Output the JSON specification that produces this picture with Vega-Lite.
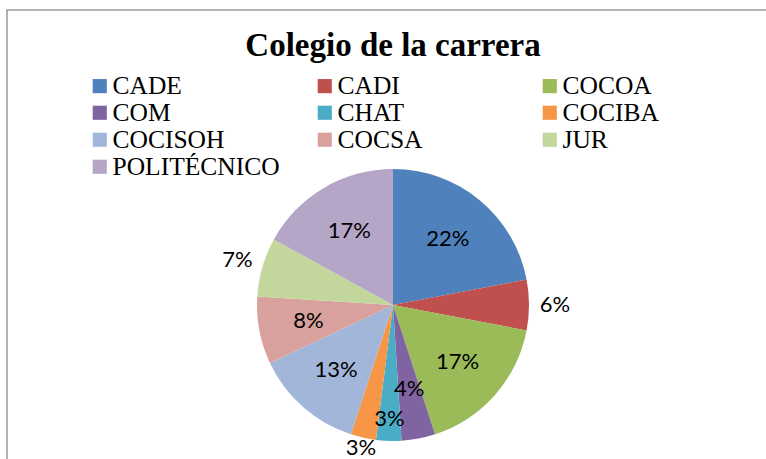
{
  "$schema": "https://vega.github.io/schema/vega-lite/v6.json",
  "autosize": {"type": "none"},
  "width": 772,
  "height": 590,
  "padding": {"left": 7, "top": 10, "right": 0, "bottom": 0},
  "background": "white",
  "view": {"stroke": "#9a9a9a", "strokeWidth": 1.5},
  "title": {
    "text": "Colegio de la carrera",
    "font": "Liberation Serif",
    "fontSize": 33,
    "fontWeight": "bold",
    "color": "black",
    "anchor": "middle",
    "frame": "group",
    "offset": 0,
    "baseline": "alphabetic",
    "dy": 79
  },
  "data": {
    "values": [
      {"college": "CADE", "pct": 22, "n": 1, "label": "22%"},
      {"college": "CADI", "pct": 6, "n": 2, "label": "6%"},
      {"college": "COCOA", "pct": 17, "n": 3, "label": "17%"},
      {"college": "COM", "pct": 4, "n": 4, "label": "4%"},
      {"college": "CHAT", "pct": 3, "n": 5, "label": "3%"},
      {"college": "COCIBA", "pct": 3, "n": 6, "label": "3%"},
      {"college": "COCISOH", "pct": 13, "n": 7, "label": "13%"},
      {"college": "COCSA", "pct": 8, "n": 8, "label": "8%"},
      {"college": "JUR", "pct": 7, "n": 9, "label": "7%"},
      {"college": "POLITÉCNICO", "pct": 17, "n": 10, "label": "17%"}
    ]
  },
  "encoding": {
    "theta": {"field": "pct", "type": "quantitative", "stack": true},
    "order": {"field": "n", "type": "quantitative"},
    "color": {
      "field": "college",
      "type": "nominal",
      "scale": {
        "domain": ["CADE", "CADI", "COCOA", "COM", "CHAT", "COCIBA", "COCISOH", "COCSA", "JUR", "POLITÉCNICO"],
        "range": ["#4F81BD", "#C0504D", "#9BBB59", "#8064A2", "#4BACC6", "#F79646", "#A2B6DA", "#D9A19D", "#C3D69B", "#B5A6C8"]
      },
      "legend": {
        "orient": "none",
        "legendX": 80,
        "legendY": 63,
        "columns": 3,
        "gridAlign": "all",
        "columnPadding": 32,
        "rowPadding": 0,
        "symbolType": "square",
        "symbolSize": 200,
        "symbolStrokeWidth": 0,
        "labelFont": "Liberation Serif",
        "labelFontSize": 25.5,
        "labelColor": "black",
        "labelOffset": 0,
        "labelLimit": 400,
        "title": null,
        "padding": 0,
        "direction": "horizontal"
      }
    }
  },
  "layer": [
    {"mark": {"type": "arc", "outerRadius": 136, "stroke": null}},
    {
      "mark": {"type": "text", "radius": 86, "font": "Lato", "fontSize": 22, "color": "black"},
      "encoding": {
        "color": {"value": "black"},
        "text": {"condition": {"test": "indexof(['CADE','COCOA','COM','COCISOH','COCSA','POLITÉCNICO'], datum.college) >= 0", "field": "label"}, "value": ""}
      }
    },
    {
      "mark": {"type": "text", "radius": 114, "font": "Lato", "fontSize": 22, "color": "black"},
      "encoding": {
        "color": {"value": "black"},
        "text": {"condition": {"test": "datum.college === 'CHAT'", "field": "label"}, "value": ""}
      }
    },
    {
      "mark": {"type": "text", "radius": 147, "font": "Lato", "fontSize": 22, "color": "black"},
      "encoding": {
        "color": {"value": "black"},
        "text": {"condition": {"test": "datum.college === 'COCIBA'", "field": "label"}, "value": ""}
      }
    },
    {
      "mark": {"type": "text", "radius": 162, "font": "Lato", "fontSize": 22, "color": "black"},
      "encoding": {
        "color": {"value": "black"},
        "text": {"condition": {"test": "indexof(['CADI','JUR'], datum.college) >= 0", "field": "label"}, "value": ""}
      }
    }
  ]
}
